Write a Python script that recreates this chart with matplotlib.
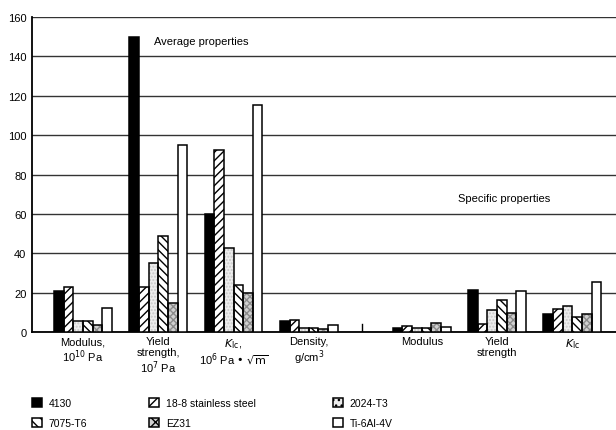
import numpy as np
import matplotlib
matplotlib.use('Agg')
import matplotlib.pyplot as plt
from matplotlib.patches import Patch

plt.rcParams['font.family'] = ['Liberation Sans', 'DejaVu Sans']
plt.rcParams['hatch.linewidth'] = 1.0

# data
groups = ['Modulus,\n10$^{10}$ Pa', 'Yield\nstrength,\n10$^{7}$ Pa',
          '$K_{\\mathrm{Ic}}$,\n10$^{6}$ Pa \u2022 $\\sqrt{\\mathrm{m}}$', 'Density,\ng/cm$^{3}$',
          'Modulus', 'Yield\nstrength', '$K_{\\mathrm{Ic}}$']
group_pos = [0, 1, 2, 3, 4.5, 5.5, 6.5]
alloys = ['4130', '18-8 stainless steel', '2024-T3', '7075-T6', 'EZ31', 'Ti-6Al-4V']

v_4130 = [21, 150, 60, 5.7, 2.3, 21.2, 9.0]
v_188 = [22.7, 23, 92.6, 6.3, 3.3, 4.3, 11.6]
v_2024 = [5.8, 35, 42.8, 2.2, 2.1, 11.5, 13.3]
v_7075 = [5.9, 49, 24.2, 2.0, 2.0, 16.4, 7.8]
v_ez31 = [3.8, 14.9, 20, 1.4, 4.5, 9.6, 9.4]
v_ti = [12.5, 94.8, 115.5, 3.4, 2.8, 20.8, 25.4]
values = [v_4130, v_188, v_2024, v_7075, v_ez31, v_ti]

styles = [
    dict(fc='black', hatch=None, hc='black'),
    dict(fc='white', hatch='////', hc='black'),
    dict(fc='#ededed', hatch='.....', hc='#c8c8c8'),
    dict(fc='white', hatch='\\\\\\\\', hc='black'),
    dict(fc='#d0d0d0', hatch='xxxxx', hc='#8a8a8a'),
    dict(fc='white', hatch=None, hc='black'),
]

fig = plt.figure(figsize=(6.16, 4.31), dpi=100)
ax = fig.add_axes([0.052, 0.227, 0.948, 0.731])

x = np.array(group_pos)
w = 0.128
for i, (vals, st) in enumerate(zip(values, styles)):
    xs = x + (i - 2.5) * w
    ax.bar(xs, vals, w, color=st['fc'], hatch=st['hatch'], edgecolor=st['hc'],
           linewidth=0, zorder=3)
    ax.bar(xs, vals, w, fill=False, edgecolor='black', linewidth=1.1, zorder=4)

# small divider between average and specific groups
sep = (group_pos[3] + group_pos[4]) / 2 - 0.04
ax.plot([sep, sep], [0, 4], color='black', lw=1, zorder=4)

ax.set_xlim(-0.677, 7.08)
ax.set_ylim(0, 160)
ax.set_yticks(np.arange(0, 161, 20))
ax.yaxis.grid(True, color='#333333', lw=1.0)
ax.set_axisbelow(True)
ax.set_xticks(group_pos)
ax.set_xticklabels(groups, fontsize=8, linespacing=1.1, va='top')
ax.tick_params(axis='x', length=0, labelsize=8, pad=3)
ax.tick_params(axis='y', length=0, labelsize=8, pad=4)
for s in ['top', 'right']:
    ax.spines[s].set_visible(False)
ax.spines['left'].set_linewidth(1.3)
ax.spines['bottom'].set_linewidth(1.3)

ax.text(1.57, 148, 'Average properties', fontsize=8, ha='center', va='center')
ax.text(5.6, 68, 'Specific properties', fontsize=8, ha='center', va='center')

handles = []
for st in styles:
    handles.append(Patch(facecolor=st['fc'], hatch=None if st['hatch'] is None else st['hatch'][:3],
                         edgecolor='black', linewidth=1.1))

# legend laid out as three columns of two rows
columns = [(0, 3), (1, 4), (2, 5)]
col_x = [32 / 616, 149 / 616, 333 / 616]
for (a, b), cx in zip(columns, col_x):
    fig.legend([handles[a], handles[b]], [alloys[a], alloys[b]],
               loc='upper left', bbox_to_anchor=(cx, 1 - 399 / 431), frameon=False,
               fontsize=7.5, handlelength=0.95, handleheight=0.95, handletextpad=0.65,
               labelspacing=0.95, borderpad=0, borderaxespad=0)

fig.savefig('out.png', dpi=100)
